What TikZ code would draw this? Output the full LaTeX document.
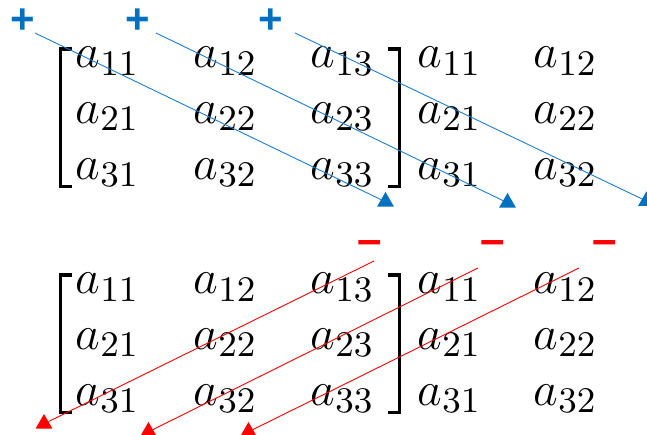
\documentclass[tikz,border=0pt]{standalone}
\usepackage{fontspec}
\newfontfamily\lsans{Liberation Sans}
\usetikzlibrary{shapes.geometric}
\DeclareMathSizes{12}{12}{9}{7}
\definecolor{pblue}{RGB}{0,112,192}
\definecolor{lblue}{RGB}{30,125,205}
\definecolor{pred}{RGB}{255,0,0}
\tikzset{
  ent/.style={anchor=base west, inner sep=0pt, scale=4, font=\fontsize{12}{14}\selectfont},
  brk/.style={line width=3.6pt, line join=miter, line cap=butt, black},
  sgn/.style={inner sep=0pt, font=\lsans\bfseries\fontsize{42}{44}\selectfont},
  msgn/.style={inner sep=0pt, font=\lsans\bfseries\fontsize{44}{46}\selectfont},
  tri/.style={regular polygon, regular polygon sides=3, minimum size=19.6pt, inner sep=0pt, draw=none},
  bline/.style={lblue, line width=0.9pt},
  rline/.style={pred, line width=0.9pt},
}
\begin{document}
\begin{tikzpicture}[x=1pt, y=-1pt]
\useasboundingbox (0,0) rectangle (647,435);
\clip (0,0) rectangle (647,435);
% ---------- matrices ----------
\foreach \yy/\shift in {0/0, 226/1}{
  \begin{scope}[yshift=-\yy pt]
    \node[ent] (m\shift r1c1) at (75,68)   {$a_{11}$};
    \node[ent] (m\shift r1c2) at (193,68)  {$a_{12}$};
    \node[ent] (m\shift r1c3) at (310,68)  {$a_{13}$};
    \node[ent] (m\shift r1c4) at (417,68)  {$a_{11}$};
    \node[ent] (m\shift r1c5) at (533,68)  {$a_{12}$};
    \node[ent] (m\shift r2c1) at (75,123.5)  {$a_{21}$};
    \node[ent] (m\shift r2c2) at (193,123.5) {$a_{22}$};
    \node[ent] (m\shift r2c3) at (310,123.5) {$a_{23}$};
    \node[ent] (m\shift r2c4) at (417,123.5) {$a_{21}$};
    \node[ent] (m\shift r2c5) at (533,123.5) {$a_{22}$};
    \node[ent] (m\shift r3c1) at (75,179.5)  {$a_{31}$};
    \node[ent] (m\shift r3c2) at (193,179.5) {$a_{32}$};
    \node[ent] (m\shift r3c3) at (310,179.5) {$a_{33}$};
    \node[ent] (m\shift r3c4) at (417,179.5) {$a_{31}$};
    \node[ent] (m\shift r3c5) at (533,179.5) {$a_{32}$};
    \draw[brk] (72,49) -- (60.5,49) -- (60.5,186.5) -- (72,186.5);
    \draw[brk] (388,49) -- (399.5,49) -- (399.5,186.5) -- (388,186.5);
  \end{scope}
}
% ---------- plus signs and blue arrows ----------
\node[sgn, text=pblue] (p1) at (23,21) {+};
\node[sgn, text=pblue] (p2) at (138,21) {+};
\node[sgn, text=pblue] (p3) at (271,21) {+};
\coordinate (bs1) at (35,33);
\coordinate (bs2) at (156,33);
\coordinate (bs3) at (295,33);
\node[tri, fill=pblue] (bt1) at (385.5,201.8) {};
\node[tri, fill=pblue] (bt2) at (507.5,202.8) {};
\node[tri, fill=pblue] (bt3) at (646.5,201.1) {};
\draw[bline] (bs1) -- (bt1);
\draw[bline] (bs2) -- (bt2);
\draw[bline] (bs3) -- (bt3);
% ---------- minus signs and red arrows ----------
\node[msgn, text=pred] (n1) at (370,248) {–};
\node[msgn, text=pred] (n2) at (493,248) {–};
\node[msgn, text=pred] (n3) at (605,248) {–};
\coordinate (rs1) at (374,261);
\coordinate (rs2) at (478,268);
\coordinate (rs3) at (579,268);
\node[tri, fill=pred] (rt1) at (44,423.8) {};
\node[tri, fill=pred] (rt2) at (148.5,431.8) {};
\node[tri, fill=pred] (rt3) at (248.5,431.8) {};
\draw[rline] (rs1) -- (rt1);
\draw[rline] (rs2) -- (rt2);
\draw[rline] (rs3) -- (rt3);
\end{tikzpicture}
\end{document}
